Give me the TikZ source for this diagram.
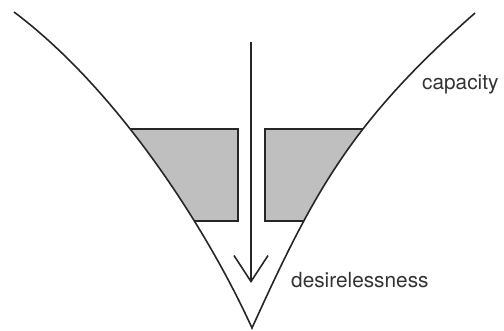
\documentclass[tikz,border=0pt]{standalone}
\usepackage{fontspec}
\setmainfont{TeX Gyre Heros}
\usetikzlibrary{arrows.meta}

\begin{document}
\begin{tikzpicture}[x=1pt, y=-1pt,
    rim/.style={line width=1.6pt, draw=black!85},
    well/.style={fill=black!25, draw=black!85, line width=1.6pt},
    word/.style={text=black!80, font=\fontsize{20.8}{24}\selectfont, inner sep=0pt, anchor=base west}]
  \useasboundingbox (0,0) rectangle (504,330);
  \coordinate (lt) at (14,12);
  \coordinate (rt) at (475,13);
  \coordinate (tip) at (252,328);
  \coordinate (a1) at (251,42);
  \coordinate (a2) at (251,283);
  % shaded pockets, cut to the inside of the cup
  \begin{scope}
    \clip (lt) .. controls (117.7,89.8) and (207,229) .. (tip)
      .. controls (313.6,192.5) and (350.7,122.4) .. (rt) -- cycle;
    \draw[well] (100,129) -- (238,129) -- (238,221) -- (100,221);
    \draw[well] (400,129) -- (265,129) -- (265,221) -- (400,221);
  \end{scope}
  \draw[rim] (lt) .. controls (117.7,89.8) and (207,229) .. (tip)
    .. controls (313.6,192.5) and (350.7,122.4) .. (rt);
  \draw[rim, -{Straight Barb[length=26pt, width=34pt]}] (a1) -- (a2);
  \node[word] (cap) at (422,89) {capacity};
  \node[word] (des) at (291,287) {desirelessness};
\end{tikzpicture}
\end{document}
